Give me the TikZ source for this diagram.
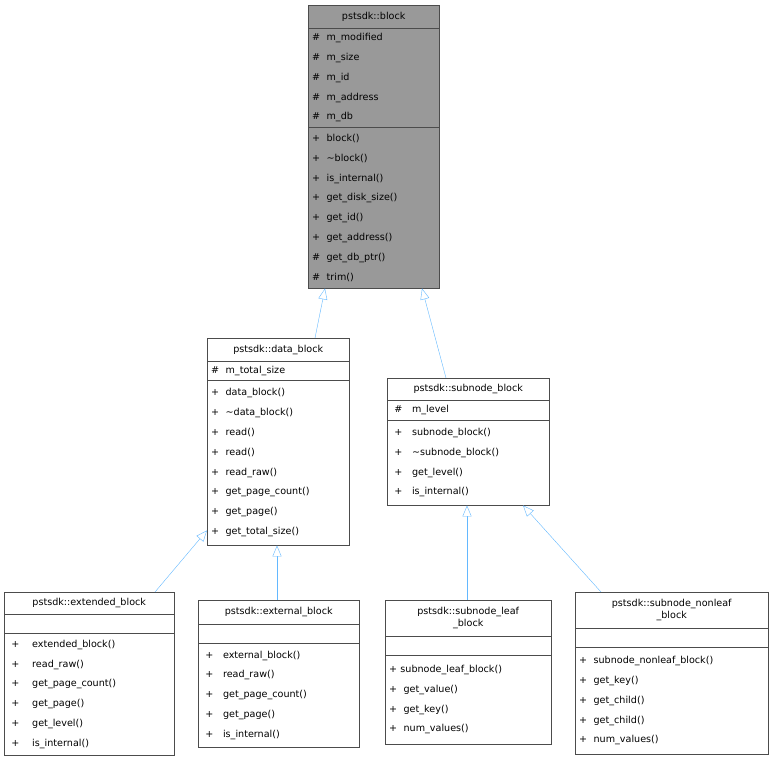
\documentclass[tikz,border=0pt]{standalone}
\usepackage{fontspec}
\setmainfont{DejaVu Sans}
\usetikzlibrary{arrows.meta}
\definecolor{edgeblue}{HTML}{63B8FF}
\definecolor{hdrgray}{HTML}{999999}
\newcommand{\cpart}[7]{%
  \pgfmathsetmacro{\tw}{#4-8}%
  \node[cpart,#6,minimum width=#4pt,minimum height=#5pt,text width=\tw pt] (#1) at (#2,#3) {#7};}
\begin{document}
\begin{tikzpicture}[x=1pt,y=-1pt,
    cpart/.style={draw=black!70,fill=white,anchor=north west,inner sep=4pt,align=left,
      font=\fontsize{9.6}{19.8}\selectfont},
    ctitle/.style={align=center},
    ctitletwo/.style={align=center,font=\fontsize{9.6}{12}\selectfont},
    inherit/.style={draw=edgeblue,-{Triangle[open,fill=white,width=9pt,length=11pt]}}]
  \useasboundingbox (0,0) rectangle (773,763);
  % base class
  \cpart{bt}{308}{5}{131}{23}{fill=hdrgray,ctitle}{pstsdk::block}
  \cpart{ba}{308}{28}{131}{99}{fill=hdrgray}{\#\ \ m\_modified\\\#\ \ m\_size\\\#\ \ m\_id\\\#\ \ m\_address\\\#\ \ m\_db}
  \cpart{bm}{308}{127}{131}{161}{fill=hdrgray}{+\ \ block()\\+\ \ \textasciitilde block()\\+\ \ is\_internal()\\+\ \ get\_disk\_size()\\+\ \ get\_id()\\+\ \ get\_address()\\\#\ \ get\_db\_ptr()\\\#\ \ trim()}
  % data_block
  \cpart{dt}{207}{338}{142}{23}{ctitle}{pstsdk::data\_block}
  \cpart{da}{207}{361}{142}{19}{}{\#\ \ m\_total\_size}
  \cpart{dm}{207}{380}{142}{165}{}{+\ \ data\_block()\\+\ \ \textasciitilde data\_block()\\+\ \ read()\\+\ \ read()\\+\ \ read\_raw()\\+\ \ get\_page\_count()\\+\ \ get\_page()\\+\ \ get\_total\_size()}
  % subnode_block
  \cpart{st}{387}{378}{162}{22}{ctitle}{pstsdk::subnode\_block}
  \cpart{sa}{387}{400}{162}{20}{}{\ \#\ \ \ m\_level}
  \cpart{sm}{387}{420}{162}{85}{}{\ +\ \ \ subnode\_block()\\\ +\ \ \ \textasciitilde subnode\_block()\\\ +\ \ \ get\_level()\\\ +\ \ \ is\_internal()}
  % extended_block
  \cpart{et}{4}{592}{170}{22}{ctitle}{pstsdk::extended\_block}
  \cpart{ea}{4}{614}{170}{19}{}{}
  \cpart{em}{4}{633}{170}{122}{}{\ +\ \ \ \ extended\_block()\\\ +\ \ \ \ read\_raw()\\\ +\ \ \ \ get\_page\_count()\\\ +\ \ \ \ get\_page()\\\ +\ \ \ \ get\_level()\\\ +\ \ \ \ is\_internal()}
  % external_block
  \cpart{xt}{198}{600}{161}{24}{ctitle}{pstsdk::external\_block}
  \cpart{xa}{198}{624}{161}{19}{}{}
  \cpart{xm}{198}{643}{161}{104}{}{\ +\ \ \ external\_block()\\\ +\ \ \ read\_raw()\\\ +\ \ \ get\_page\_count()\\\ +\ \ \ get\_page()\\\ +\ \ \ is\_internal()}
  % subnode_leaf_block
  \cpart{lt}{385}{600}{166}{36}{ctitletwo}{pstsdk::subnode\_leaf\\\_block}
  \cpart{la}{385}{636}{166}{19}{}{}
  \cpart{lm}{385}{655}{166}{89}{}{+\ subnode\_leaf\_block()\\+\ \ get\_value()\\+\ \ get\_key()\\+\ \ num\_values()}
  % subnode_nonleaf_block
  \cpart{nt}{575}{592}{193}{36}{ctitletwo}{pstsdk::subnode\_nonleaf\\\_block}
  \cpart{na}{575}{628}{193}{19}{}{}
  \cpart{nm}{575}{647}{193}{107}{}{+\ \ subnode\_nonleaf\_block()\\+\ \ get\_key()\\+\ \ get\_child()\\+\ \ get\_child()\\+\ \ num\_values()}
  % inheritance
  \draw[inherit] (dt.north -| 315,0) -- (bm.south -| 325,0);
  \draw[inherit] (st.north -| 446,0) -- (bm.south -| 422,0);
  \draw[inherit] (et.north -| 155,0) -- ([yshift=15pt]dm.south west);
  \draw[inherit] (xt.north -| 277,0) -- (dm.south -| 277,0);
  \draw[inherit] (lt.north -| 467,0) -- (sm.south -| 467,0);
  \draw[inherit] (nt.north -| 601,0) -- (sm.south -| 523,0);
\end{tikzpicture}
\end{document}
